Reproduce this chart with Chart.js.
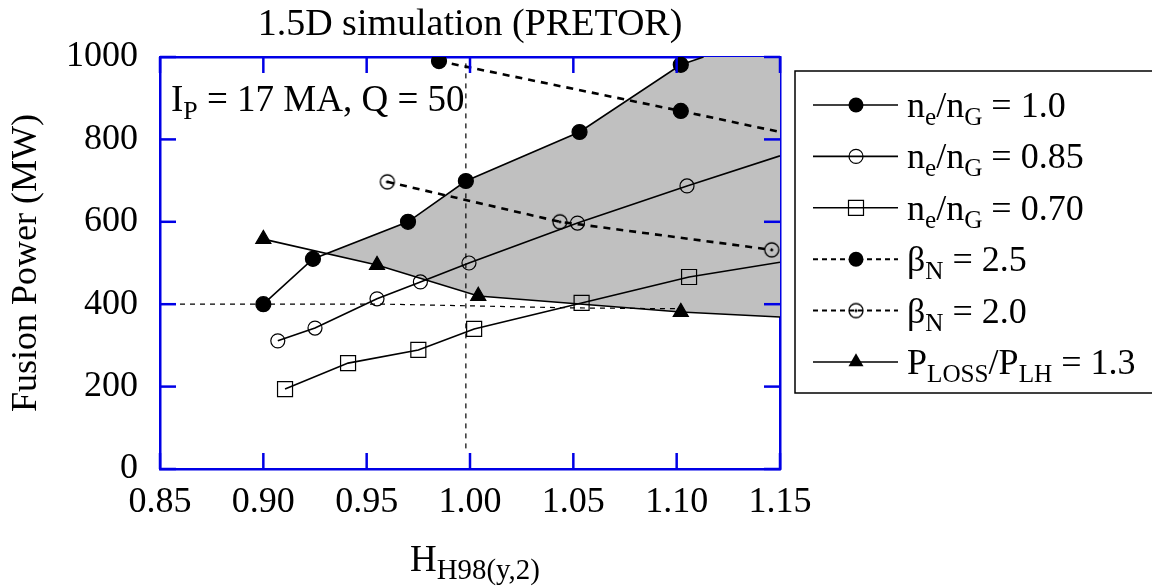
<!DOCTYPE html>
<html>
<head>
<meta charset="utf-8">
<script src="https://cdn.jsdelivr.net/npm/chart.js@4.4.0/dist/chart.umd.min.js"></script>
<style>
  body { margin: 0; background: #fff; }
  canvas { display: block; }
</style>
</head>
<body>
<canvas id="grafico" width="1152" height="588"></canvas>
<script>
const FONTE = '"Liberation Serif", "Times New Roman", serif';
const AZUL = '#0000e6';

// H_H98(y,2) (x) and fusion power in MW (y)
const ne10_x = [0.900, 0.924, 0.970, 0.998, 1.053, 1.102, 1.113];
const ne10_y = [400, 510, 600, 699, 818, 981, 1000];
const ne085_x = [0.907, 0.925, 0.955, 0.976, 0.9995, 1.052, 1.105, 1.150];
const ne085_y = [311, 342, 413, 454, 500, 597, 687, 760];
const ne070_x = [0.9105, 0.941, 0.975, 1.002, 1.054, 1.106, 1.150];
const ne070_y = [194, 257, 289, 340, 403, 466, 502];
const beta25_x = [0.985, 1.102, 1.150];
const beta25_y = [990, 869, 818];
const beta20_x = [0.960, 1.0435, 1.146];
const beta20_y = [697, 600, 532];
const ploss_x = [0.900, 0.955, 1.004, 1.102, 1.150];
const ploss_y = [558, 495, 420, 381, 369];

// dotted guide lines
const guiaH_x = [0.85, 0.96, 1.00, 1.05, 1.10];
const guiaH_y = [400, 400, 396, 391, 389];
const guiaV_x = [0.998, 0.998];
const guiaV_y = [50, 985];

const xTicks = [0.85, 0.90, 0.95, 1.00, 1.05, 1.10, 1.15];
const yTicks = [0, 200, 400, 600, 800, 1000];

const titulo = '1.5D simulation (PRETOR)';
const tituloY = 'Fusion Power (MW)';
const tituloX = [['H', 0], ['H98(y,2)', 1]];
const anotacao = [['I', 0], ['P', 1], [' = 17 MA, Q = 50', 0]];
const legendas = [
  [['n', 0], ['e', 1], ['/n', 0], ['G', 1], [' = 1.0', 0]],
  [['n', 0], ['e', 1], ['/n', 0], ['G', 1], [' = 0.85', 0]],
  [['n', 0], ['e', 1], ['/n', 0], ['G', 1], [' = 0.70', 0]],
  [['\u03B2', 0], ['N', 1], [' = 2.5', 0]],
  [['\u03B2', 0], ['N', 1], [' = 2.0', 0]],
  [['P', 0], ['LOSS', 1], ['/P', 0], ['LH', 1], [' = 1.3', 0]]
];

function pts(xs, ys) { return xs.map((x, i) => ({ x: x, y: ys[i] })); }
// marker on every point, except the last one if the line only runs to the frame
function raios(n, r, semUltimo) { return Array.from({ length: n }, (_, i) => (semUltimo && i === n - 1) ? 0 : r); }

// circle with a dot (beta_N = 2.0)
const circPonto = document.createElement('canvas');
circPonto.width = 18; circPonto.height = 18;
(() => {
  const c = circPonto.getContext('2d');
  c.strokeStyle = '#000'; c.lineWidth = 1.3;
  c.beginPath(); c.arc(9, 9, 7, 0, Math.PI * 2); c.stroke();
  c.fillStyle = '#000';
  c.beginPath(); c.arc(9, 9, 1.5, 0, Math.PI * 2); c.fill();
})();

// crossing of the n/nG = 1.0 line with the P_LOSS line
function cruzamento(ax, ay, bx, by) {
  for (let i = 0; i < ax.length - 1; i++) {
    for (let j = 0; j < bx.length - 1; j++) {
      const x1 = ax[i], y1 = ay[i], x2 = ax[i + 1], y2 = ay[i + 1];
      const x3 = bx[j], y3 = by[j], x4 = bx[j + 1], y4 = by[j + 1];
      const d = (x1 - x2) * (y3 - y4) - (y1 - y2) * (x3 - x4);
      if (d === 0) continue;
      const t = ((x1 - x3) * (y3 - y4) - (y1 - y3) * (x3 - x4)) / d;
      const u = -((x1 - x2) * (y1 - y3) - (y1 - y2) * (x1 - x3)) / d;
      if (t >= 0 && t <= 1 && u >= 0 && u <= 1) return { x: x1 + t * (x2 - x1), y: y1 + t * (y2 - y1) };
    }
  }
  return { x: ax[0], y: ay[0] };
}

const c0 = cruzamento(ne10_x, ne10_y, ploss_x, ploss_y);
const regiao = [c0]
  .concat(pts(ne10_x, ne10_y).filter(p => p.x > c0.x))
  .concat([{ x: xTicks[xTicks.length - 1], y: yTicks[yTicks.length - 1] }])
  .concat(pts(ploss_x, ploss_y).filter(p => p.x > c0.x).reverse())
  .concat([c0]);

const base = { showLine: true, tension: 0, borderColor: '#000', borderWidth: 1.6, pointBorderColor: '#000', pointBorderWidth: 1.2 };

const datasets = [
  Object.assign({}, base, { data: pts(ne10_x, ne10_y), pointRadius: raios(ne10_x.length, 7.5, true), pointBackgroundColor: '#000', pointStyle: 'circle' }),
  Object.assign({}, base, { data: pts(ne085_x, ne085_y), pointRadius: raios(ne085_x.length, 7, true), pointBackgroundColor: 'rgba(0,0,0,0)', pointStyle: 'circle' }),
  Object.assign({}, base, { data: pts(ne070_x, ne070_y), pointRadius: raios(ne070_x.length, 10.6, true), pointBackgroundColor: 'rgba(0,0,0,0)', pointStyle: 'rect' }),
  Object.assign({}, base, { data: pts(beta25_x, beta25_y), borderWidth: 2.6, borderDash: [7, 6], pointRadius: raios(beta25_x.length, 7.5, true), pointBackgroundColor: '#000', pointStyle: 'circle' }),
  Object.assign({}, base, { data: pts(beta20_x, beta20_y), borderWidth: 2.6, borderDash: [7, 6], pointRadius: raios(beta20_x.length, 9, false), pointStyle: circPonto }),
  Object.assign({}, base, { data: pts(ploss_x, ploss_y), pointRadius: raios(ploss_x.length, 8.7, true), pointBackgroundColor: '#000', pointStyle: 'triangle' }),
  Object.assign({}, base, { data: pts(guiaH_x, guiaH_y), borderWidth: 1.2, borderDash: [5, 5], pointRadius: 0, order: 5 }),
  Object.assign({}, base, { data: pts(guiaV_x, guiaV_y), borderWidth: 1.2, borderDash: [5, 5], pointRadius: 0, order: 5 }),
  { data: regiao, showLine: true, tension: 0, borderWidth: 0, borderColor: 'rgba(0,0,0,0)', pointRadius: 0, fill: 'shape', backgroundColor: '#c0c0c0', order: 10 }
];

function textoRico(ctx, partes, x, y, tam, alinhar, fatorSub) {
  const sub = tam * (fatorSub || 0.7);
  const larg = partes.map(p => { ctx.font = (p[1] ? sub : tam) + 'px ' + FONTE; return ctx.measureText(p[0]).width; });
  const total = larg.reduce((a, b) => a + b, 0);
  let cx = alinhar === 'center' ? x - total / 2 : x;
  ctx.textAlign = 'left';
  ctx.textBaseline = 'alphabetic';
  partes.forEach((p, i) => {
    ctx.font = (p[1] ? sub : tam) + 'px ' + FONTE;
    ctx.fillText(p[0], cx, p[1] ? y + tam * 0.22 : y);
    cx += larg[i];
  });
}

function marcador(ctx, tipo, x, y) {
  ctx.save();
  ctx.strokeStyle = '#000'; ctx.fillStyle = '#000'; ctx.lineWidth = 1.2; ctx.setLineDash([]);
  ctx.beginPath();
  if (tipo === 'cheio') { ctx.arc(x, y, 7.5, 0, Math.PI * 2); ctx.fill(); }
  else if (tipo === 'aberto') { ctx.arc(x, y, 7, 0, Math.PI * 2); ctx.stroke(); }
  else if (tipo === 'quad') { ctx.rect(x - 7.5, y - 7.5, 15, 15); ctx.stroke(); }
  else if (tipo === 'ponto') { ctx.drawImage(circPonto, x - 9, y - 9); }
  else if (tipo === 'tri') { ctx.moveTo(x, y - 8.7); ctx.lineTo(x + 7.5, y + 4.35); ctx.lineTo(x - 7.5, y + 4.35); ctx.closePath(); ctx.fill(); }
  ctx.restore();
}

const extras = {
  id: 'extras',
  afterDraw(chart) {
    const { ctx, chartArea: a, scales } = chart;
    ctx.save();
    // inward ticks on all four sides
    ctx.strokeStyle = AZUL; ctx.lineWidth = 2.5;
    const L = 16;
    const seg = (x1, y1, x2, y2) => { ctx.beginPath(); ctx.moveTo(x1, y1); ctx.lineTo(x2, y2); ctx.stroke(); };
    scales.x.ticks.forEach(t => {
      const px = scales.x.getPixelForValue(t.value);
      seg(px, a.bottom, px, a.bottom - L);
      seg(px, a.top, px, a.top + L);
    });
    scales.y.ticks.forEach(t => {
      const py = scales.y.getPixelForValue(t.value);
      seg(a.left, py, a.left + L, py);
      seg(a.right, py, a.right - L, py);
    });

    ctx.fillStyle = '#000';
    textoRico(ctx, [[titulo, 0]], (a.left + a.right) / 2, 35, 38, 'center');
    textoRico(ctx, anotacao, a.left + 11, 111, 37, 'left');
    textoRico(ctx, tituloX, 410, 571, 37, 'left', 0.78);

    // legend box
    const lx = 795, ly = 71, lb = 393;
    ctx.strokeStyle = '#000'; ctx.lineWidth = 1.5;
    ctx.strokeRect(lx, ly, chart.width - lx + 10, lb - ly);
    const tipos = ['cheio', 'aberto', 'quad', 'cheio', 'ponto', 'tri'];
    const tracos = [false, false, false, true, true, false];
    legendas.forEach((partes, i) => {
      const ry = 105 + i * 51.4;
      ctx.save();
      ctx.strokeStyle = '#000';
      ctx.lineWidth = tracos[i] ? 2 : 1.6;
      ctx.setLineDash(tracos[i] ? [5, 4] : []);
      seg(813, ry, 898, ry);
      ctx.restore();
      marcador(ctx, tipos[i], 856, ry);
      ctx.fillStyle = '#000';
      textoRico(ctx, partes, 907, ry + 12, 36, 'left');
    });
    ctx.restore();
  }
};

const fonteTicks = { family: FONTE, size: 36 };

new Chart(document.getElementById('grafico'), {
  type: 'line',
  data: { datasets: datasets },
  options: {
    responsive: false,
    animation: false,
    devicePixelRatio: 1,
    layout: { padding: 0 },
    plugins: { legend: { display: false }, tooltip: { enabled: false }, title: { display: false } },
    scales: {
      x: {
        type: 'linear', position: 'bottom', min: 0.85, max: 1.15,
        afterBuildTicks: s => { s.ticks = xTicks.map(v => ({ value: v })); },
        afterFit: s => { s.height = 119; },
        grid: { display: false, drawTicks: false },
        border: { display: true, color: AZUL, width: 2.5 },
        ticks: { color: '#000', font: fonteTicks, padding: 12, maxRotation: 0, autoSkip: false, callback: v => Number(v).toFixed(2) }
      },
      x2: {
        type: 'linear', position: 'top', min: 0.85, max: 1.15,
        afterFit: s => { s.height = 57; },
        grid: { display: false, drawTicks: false },
        border: { display: true, color: AZUL, width: 2.5 },
        ticks: { display: false }
      },
      y: {
        type: 'linear', position: 'left', min: 0, max: 1000,
        afterBuildTicks: s => { s.ticks = yTicks.map(v => ({ value: v })); },
        afterFit: s => { s.width = 160; },
        grid: { display: false, drawTicks: false },
        border: { display: true, color: AZUL, width: 2.5 },
        ticks: { color: '#000', font: fonteTicks, padding: 22, autoSkip: false, callback: v => String(v) },
        title: { display: true, text: tituloY, color: '#000', font: { family: FONTE, size: 36 }, padding: { top: 5, bottom: 0 } }
      },
      y2: {
        type: 'linear', position: 'right', min: 0, max: 1000,
        afterFit: s => { s.width = 372; },
        grid: { display: false, drawTicks: false },
        border: { display: true, color: AZUL, width: 2.5 },
        ticks: { display: false }
      }
    }
  },
  plugins: [extras]
});
</script>
</body>
</html>
